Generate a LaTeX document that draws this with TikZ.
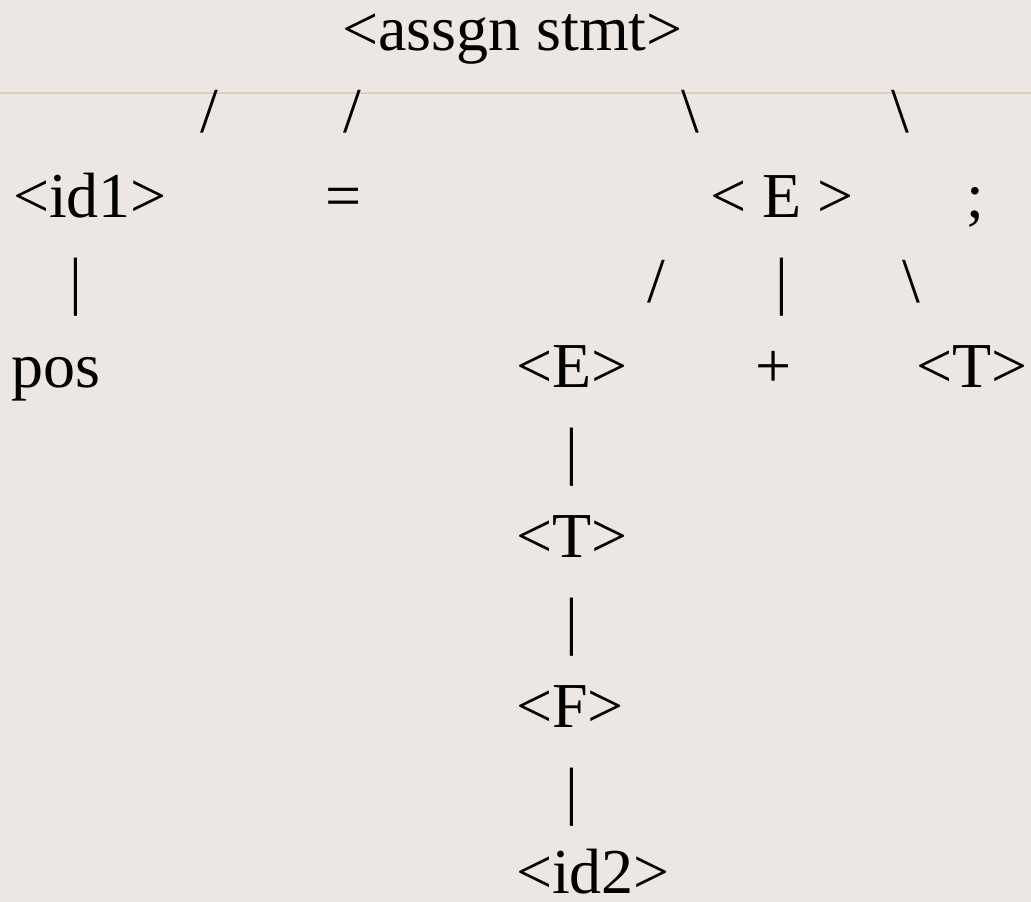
\documentclass[tikz,border=0pt]{standalone}
\usepackage{fontspec}
\setmainfont{Liberation Serif}
\definecolor{slidebg}{RGB}{236,231,227}
\definecolor{ruleline}{RGB}{220,209,184}
\tikzset{
  txt/.style={inner sep=0pt, outer sep=0pt, font=\fontsize{64}{70}\selectfont, text=black},
  ttl/.style={txt, text height=40pt},
}
\begin{document}
\begin{tikzpicture}[x=1pt,y=-1pt]
\fill[slidebg] (0,0) rectangle (1031,902);
\useasboundingbox (0,0) rectangle (1031,902);
\coordinate (rl) at (0,93);
\coordinate (rr) at (1031,93);
\draw[ruleline, line width=1.6pt] (rl) -- (rr);
% row 0
\node[ttl, anchor=base] (root) at (512.5,50) {<assgn stmt>};
% row 1
\node[txt, anchor=base] (s1) at (209,132) {/};
\node[txt, anchor=base] (s2) at (352,132) {/};
\node[txt, anchor=base] (s3) at (690,132) {\textbackslash};
\node[txt, anchor=base] (s4) at (900,132) {\textbackslash};
% row 2
\node[txt, anchor=base west] (id1) at (13,217) {<id1>};
\node[txt, anchor=base] (eq) at (344,217) {=};
\node[txt, anchor=base] (E0) at (782,217) {< E >};
\node[txt, anchor=base] (semi) at (975,217) {;};
% row 3
\node[txt, anchor=base] (b1) at (76,302) {|};
\node[txt, anchor=base] (s5) at (656,302) {/};
\node[txt, anchor=base] (b2) at (782,302) {|};
\node[txt, anchor=base] (s6) at (911,302) {\textbackslash};
% row 4
\node[txt, anchor=base west] (pos) at (12,387) {pos};
\node[txt, anchor=base west] (E1) at (516,387) {<E>};
\node[txt, anchor=base] (plus) at (774,387) {+};
\node[txt, anchor=base west] (T0) at (916,387) {<T>};
% column
\node[txt, anchor=base] (b3) at (572,472) {|};
\node[txt, anchor=base west] (T1) at (516,557) {<T>};
\node[txt, anchor=base] (b4) at (572,642) {|};
\node[txt, anchor=base west] (F) at (516,727) {<F>};
\node[txt, anchor=base] (b5) at (572,812) {|};
\node[txt, anchor=base west, text depth=0pt] (id2) at (516,893) {<id2>};
\end{tikzpicture}
\end{document}
